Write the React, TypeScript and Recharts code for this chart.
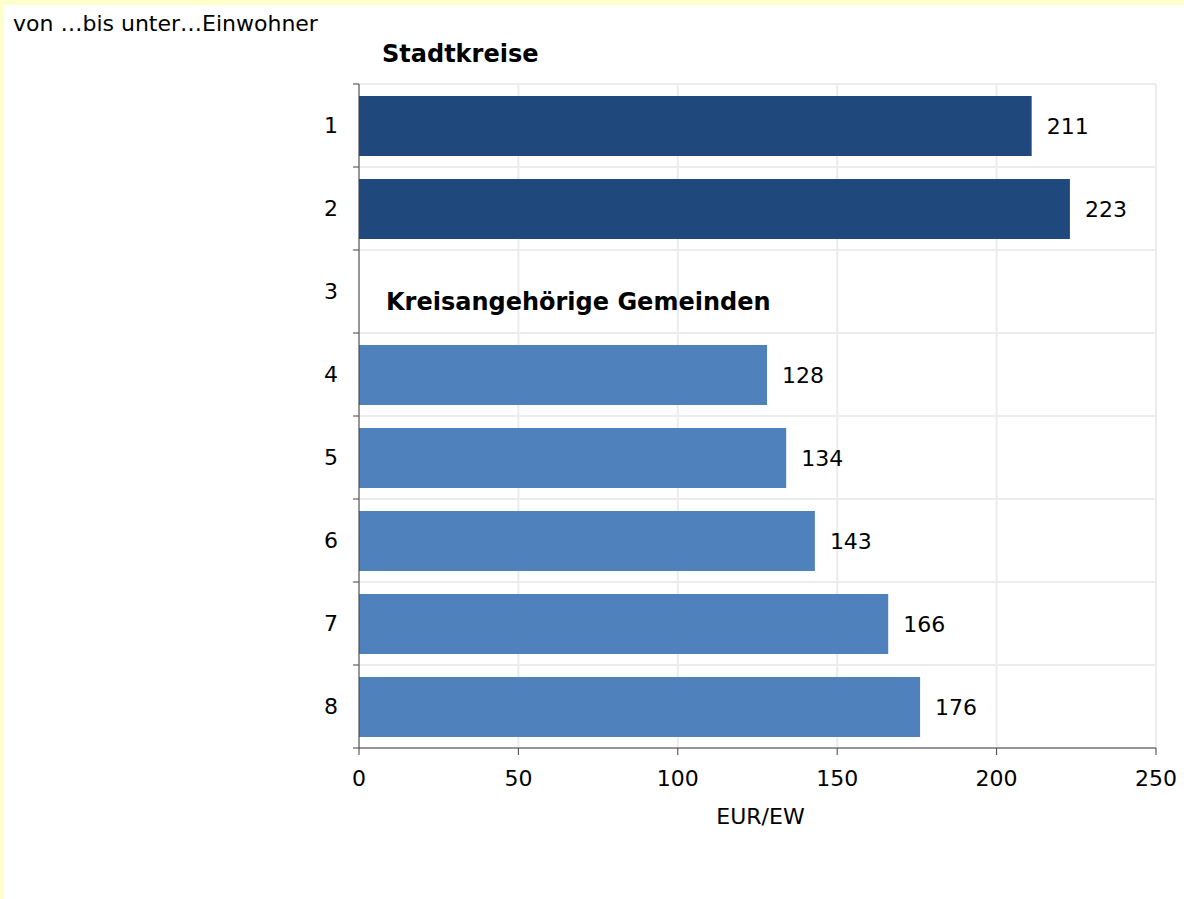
import { Bar, BarChart, CartesianGrid, Cell, Label, LabelList, ReferenceLine, XAxis, YAxis } from "recharts";

const groups = ["1", "2", "3", "4", "5", "6", "7", "8"];
const perCapita = [211, 223, null, 128, 134, 143, 166, 176];
const isCityDistrict = [true, true, false, false, false, false, false, false];
const xTicks = [0, 50, 100, 150, 200, 250];

const DARK = "#1f497d";
const LIGHT = "#4f81bd";
const GRID = "#ececec";
const AXIS = "#404040";
const FONT = "'DejaVu Sans', Verdana, sans-serif";

const rows = groups.map((g, i) => ({ group: g, value: perCapita[i] }));

// band edges: top edge of every band plus the bottom edge of the last one
const edges = [
  ...groups.map((g) => ({ key: "s" + g, y: g, pos: "start" as const })),
  { key: "end", y: groups[groups.length - 1], pos: "end" as const },
];

function EdgeLine(props: any) {
  const { x1, y1, x2, y2 } = props;
  return (
    <g>
      <line x1={x1} y1={y1} x2={x2} y2={y2} stroke={GRID} strokeWidth={2} />
      <line x1={x1 - 6} y1={y1} x2={x1} y2={y1} stroke={AXIS} strokeWidth={1} />
    </g>
  );
}

export default function App() {
  return (
    <div
      style={{
        position: "absolute",
        left: 0,
        top: 0,
        width: 1184,
        height: 899,
        background: "#ffffff",
        fontFamily: FONT,
        color: "#000",
        overflow: "hidden",
      }}
    >
      <div style={{ position: "absolute", left: 0, top: 0, width: 1184, height: 5, background: "#ffffcc" }} />
      <div style={{ position: "absolute", left: 0, top: 0, width: 4, height: 899, background: "#ffffcc" }} />
      <div style={{ position: "absolute", left: 13, top: 13, fontSize: 22, lineHeight: 1, whiteSpace: "nowrap" }}>
        von …bis unter…Einwohner
      </div>

      <div style={{ position: "absolute", left: 0, top: 0 }}>
        <BarChart
          width={1184}
          height={899}
          data={rows}
          layout="vertical"
          margin={{ top: 84, right: 28, bottom: 71, left: 291 }}
          style={{ fontFamily: FONT }}
        >
          <CartesianGrid horizontal={false} stroke={GRID} strokeWidth={2} />
          <XAxis
            type="number"
            domain={[0, 250]}
            ticks={xTicks}
            interval={0}
            height={80}
            tickSize={7}
            tickMargin={15}
            stroke={AXIS}
            tick={{ fill: "#000", fontSize: 22 }}
          >
            <Label value="EUR/EW" position="insideBottom" offset={4} dx={3} fill="#000" fontSize={22} />
          </XAxis>
          <YAxis
            type="category"
            dataKey="group"
            width={68}
            stroke={AXIS}
            tickLine={false}
            tickSize={0}
            tickMargin={21}
            tick={{ fill: "#000", fontSize: 22 }}
          />
          {edges.map((e) => (
            <ReferenceLine key={e.key} y={e.y} position={e.pos} shape={EdgeLine} />
          ))}
          <Bar dataKey="value" barSize={60} isAnimationActive={false}>
            {rows.map((r, i) => (
              <Cell key={r.group} fill={isCityDistrict[i] ? DARK : LIGHT} />
            ))}
            <LabelList dataKey="value" position="right" offset={15} fill="#000" fontSize={22} />
          </Bar>
        </BarChart>
      </div>

      <div style={{ position: "absolute", left: 382, top: 42, fontSize: 24, fontWeight: "bold", lineHeight: 1, whiteSpace: "nowrap" }}>
        Stadtkreise
      </div>
      <div style={{ position: "absolute", left: 386, top: 290, fontSize: 24, fontWeight: "bold", lineHeight: 1, whiteSpace: "nowrap" }}>
        Kreisangehörige Gemeinden
      </div>
    </div>
  );
}
